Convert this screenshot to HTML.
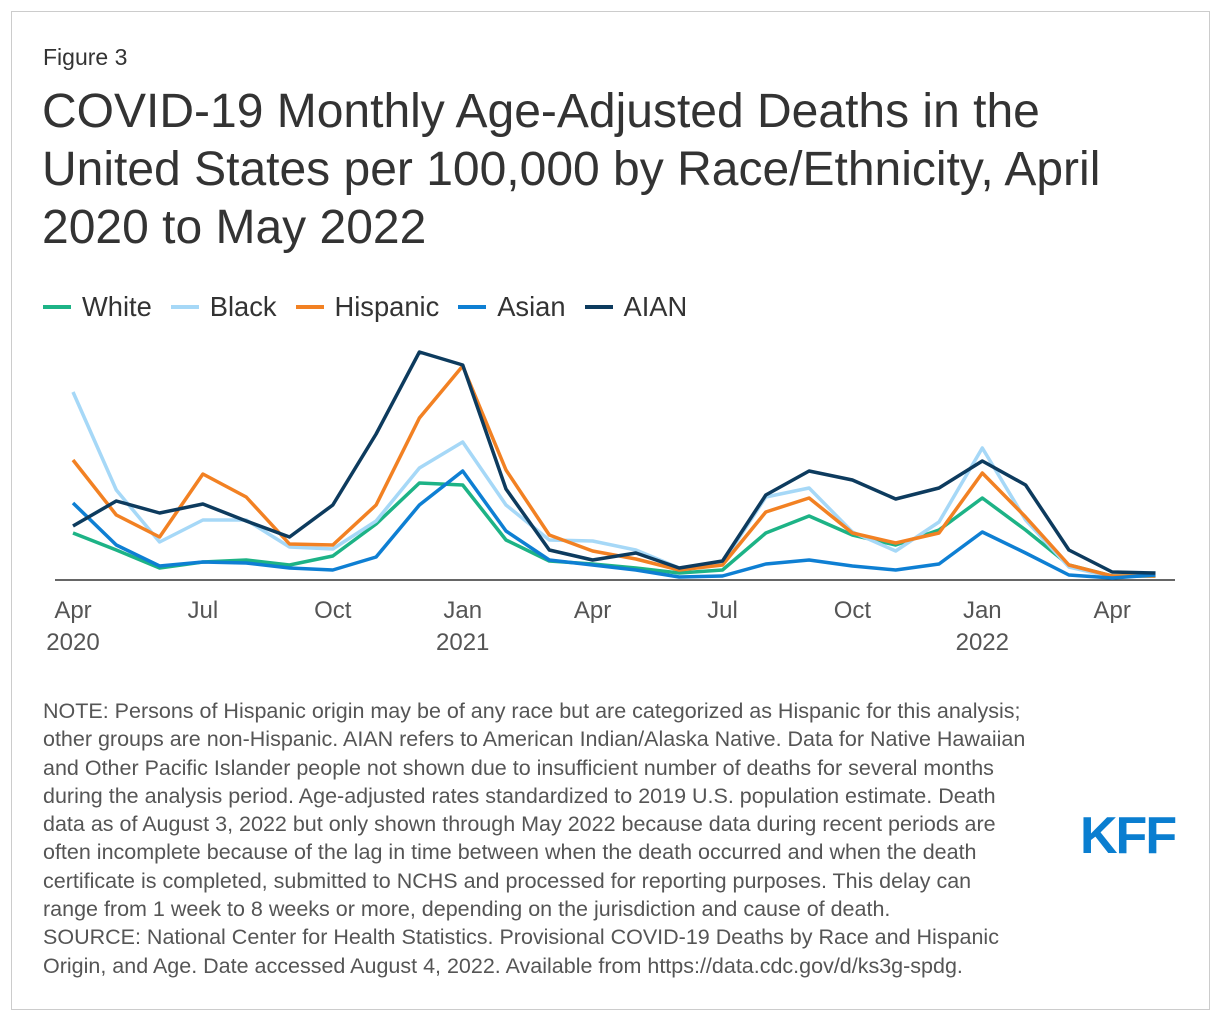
<!DOCTYPE html>
<html><head><meta charset="utf-8"><style>
body{margin:0;width:1220px;height:1020px;background:#fff;font-family:"Liberation Sans",sans-serif;position:relative;overflow:hidden}
.frame{position:absolute;left:11px;top:11px;width:1197px;height:997px;border:1px solid #ccc}
.fig{position:absolute;left:43px;top:44px;font-size:23px;color:#333}
h1{position:absolute;left:42px;top:83px;margin:0;font-weight:normal;font-size:48px;line-height:58px;color:#333;width:1090px}
.legend{position:absolute;left:43px;top:291px;font-size:27.3px;color:#333;display:flex;gap:19px}
.legend span{display:flex;align-items:center}
.legend i{display:inline-block;width:28px;height:4px;margin-right:11px}
.note{position:absolute;left:43px;top:697px;white-space:nowrap;font-size:21.5px;line-height:28.3px;color:#555}
.kff{position:absolute;left:1080px;top:806px;font-size:52px;font-weight:bold;color:#0a7ed0;letter-spacing:-2px}
svg{position:absolute;left:0;top:0}
</style></head><body>
<div class="frame"></div>
<div class="fig">Figure 3</div>
<h1>COVID-19 Monthly Age-Adjusted Deaths in the United States per 100,000 by Race/Ethnicity, April 2020 to May 2022</h1>
<div class="legend">
<span><i style="background:#1db386"></i>White</span>
<span><i style="background:#a6d8f7"></i>Black</span>
<span><i style="background:#f28123"></i>Hispanic</span>
<span><i style="background:#0e7fd3"></i>Asian</span>
<span><i style="background:#0d3b5e"></i>AIAN</span>
</div>
<svg id="chart" width="1220" height="700"></svg>
<div class="note">NOTE: Persons of Hispanic origin may be of any race but are categorized as Hispanic for this analysis;<br>other groups are non-Hispanic. AIAN refers to American Indian/Alaska Native. Data for Native Hawaiian<br>and Other Pacific Islander people not shown due to insufficient number of deaths for several months<br>during the analysis period. Age-adjusted rates standardized to 2019 U.S. population estimate. Death<br>data as of August 3, 2022 but only shown through May 2022 because data during recent periods are<br>often incomplete because of the lag in time between when the death occurred and when the death<br>certificate is completed, submitted to NCHS and processed for reporting purposes. This delay can<br>range from 1 week to 8 weeks or more, depending on the jurisdiction and cause of death.<br>SOURCE: National Center for Health Statistics. Provisional COVID-19 Deaths by Race and Hispanic<br>Origin, and Age. Date accessed August 4, 2022. Available from https://data.cdc.gov/d/ks3g-spdg.</div>
<div class="kff">KFF</div>
<script>
const months=["Apr 2020","May","Jun","Jul","Aug","Sep","Oct","Nov","Dec","Jan 2021","Feb","Mar","Apr","May","Jun","Jul","Aug","Sep","Oct","Nov","Dec","Jan 2022","Feb","Mar","Apr","May 2022"];
const tickIdx=[0,3,6,9,12,15,18,21,24];
const tickTop=["Apr","Jul","Oct","Jan","Apr","Jul","Oct","Jan","Apr"];
const tickBottom=["2020","","","2021","","","","2022",""];
const white=[47,30,12,18,20,15,24,56,97,95,40,19,16,12,7,10,47,64,45,35,50,82,50,15,4,4];
const black=[188,90,38,60,60,33,31,59,112,138,75,40,39,30,12,17,83,92,48,29,58,132,60,13,3,5];
const hispanic=[120,65,43,106,83,36,35,75,162,214,110,45,29,21,10,15,68,82,47,37,47,107,63,15,4,4];
const asian=[77,35,14,18,17,12,10,23,75,109,49,20,15,10,3,4,16,20,14,10,16,48,27,5,2,5];
const aian=[54,79,67,76,59,43,75,146,228,215,91,30,20,27,12,19,85,109,100,81,92,119,95,30,8,7];
const svg=document.getElementById('chart');
const NS='http://www.w3.org/2000/svg';
const x=i=>73+i*43.3;
const y=v=>580-v;
const base=document.createElementNS(NS,'line');


base.setAttribute('x1',55);base.setAttribute('x2',1175);base.setAttribute('y1',580);base.setAttribute('y2',580);
base.setAttribute('stroke','#333');base.setAttribute('stroke-width','1.5');
svg.appendChild(base);
tickIdx.forEach((ti,k)=>{
 const t=document.createElementNS(NS,'text');
 
 
 t.setAttribute('x',x(ti));t.setAttribute('y',618);t.setAttribute('text-anchor','middle');
 t.setAttribute('font-size','24');t.setAttribute('fill','#555');t.setAttribute('font-family','Liberation Sans, sans-serif');
 t.textContent=tickTop[k];svg.appendChild(t);
 if(tickBottom[k]){
 const t2=document.createElementNS(NS,'text');
 
 
 t2.setAttribute('x',x(ti));t2.setAttribute('y',650);t2.setAttribute('text-anchor','middle');
 t2.setAttribute('font-size','24');t2.setAttribute('fill','#555');t2.setAttribute('font-family','Liberation Sans, sans-serif');
 t2.textContent=tickBottom[k];svg.appendChild(t2);}
});
const series=[["white",white,"#1db386"],["black",black,"#a6d8f7"],["hispanic",hispanic,"#f28123"],["asian",asian,"#0e7fd3"],["aian",aian,"#0d3b5e"]];
series.forEach(([n,d,c])=>{
 const p=document.createElementNS(NS,'polyline');
 
 
 p.setAttribute('points',d.map((v,i)=>x(i)+','+y(v)).join(' '));
 p.setAttribute('fill','none');p.setAttribute('stroke',c);p.setAttribute('stroke-width','3.5');p.setAttribute('stroke-linejoin','round');
 svg.appendChild(p);
});
</script>
</body></html>
